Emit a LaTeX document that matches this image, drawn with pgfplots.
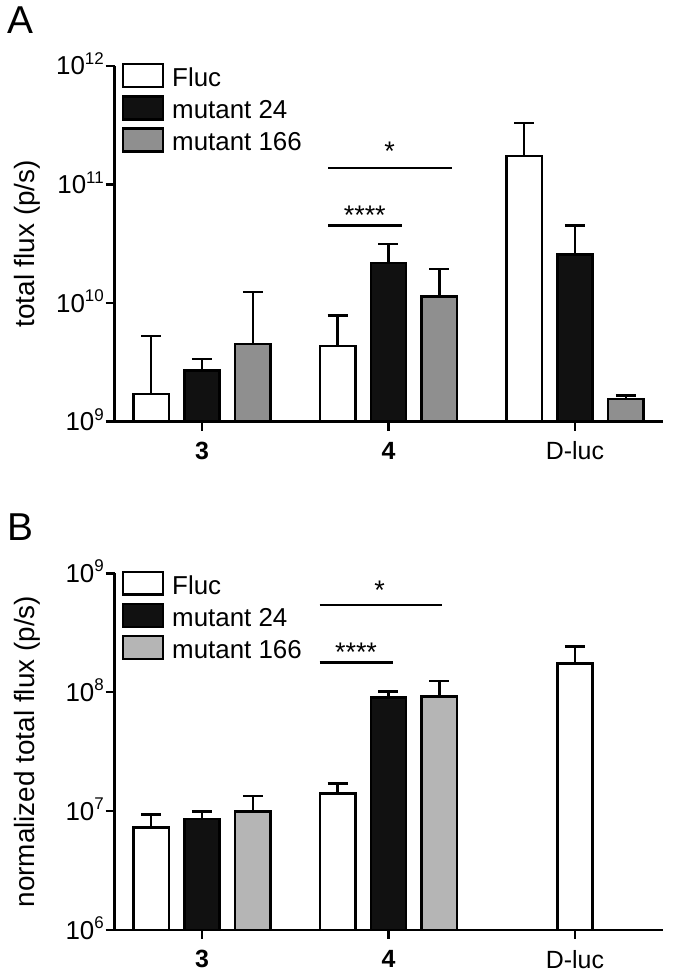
\documentclass[border=0pt]{standalone}
\usepackage{pgfplots}
\pgfplotsset{compat=1.18}
\usepackage{fontspec}
\setmainfont{Liberation Sans}
\definecolor{grayA}{HTML}{8F8F8F}
\definecolor{grayB}{HTML}{B5B5B5}
\definecolor{blk}{HTML}{111111}
\newcommand{\tlab}[1]{10\raisebox{0.4em}{\fontsize{17}{17}\selectfont #1}}
\pgfplotsset{
  errplot/.style={draw=none, no markers, forget plot, line width=2.5bp,
    error bars/y dir=plus, error bars/y explicit,
    error bars/error bar style={draw=black, line width=2.5bp, solid},
    error bars/error mark options={rotate=90, draw=black, line width=2.5bp, mark size=10bp}},
}
\begin{document}
\begin{tikzpicture}
\path[use as bounding box] (0,0) rectangle (673bp,-975bp);
% Panel A
\begin{axis}[at={(114.5bp,-421.7bp)}, anchor=south west,
    scale only axis, width=548.5bp, height=355.9bp,
    xmin=-0.469, xmax=2.472,
    ymode=log, log origin=infty,
    ymin=1e9, ymax=1e12, ytick={1e9,1e10,1e11,1e12},
    yticklabels={\tlab{9},\tlab{10},\tlab{11},\tlab{12}},
    axis x line*=bottom, axis y line*=left,
    axis line style={line width=2.8bp, black},
    xtick={0,1,2}, xticklabels={\textbf{3},\textbf{4},D-luc},
    tick align=outside, major tick length=9bp,
    tick style={line width=2.5bp, black},
    yminorticks=false,
    ticklabel style={font=\fontsize{26}{26}\selectfont},
    xticklabel style={anchor=north, inner sep=0pt, yshift=-11bp, font=\fontsize{25}{25}\selectfont},
    yticklabel style={anchor=base east, inner sep=0pt, xshift=-1.5bp, yshift=-9bp},
    ylabel={total flux (p/s)},
    ylabel style={at={(axis description cs:-0.1595,0.5)}, anchor=center, font=\fontsize{28}{28}\selectfont},
    clip=false,
    legend style={at={(rel axis cs:0,1)}, anchor=north west, draw=none, fill=none,
      inner sep=0pt, xshift=7bp, yshift=3bp, row sep=6.3bp,
      font=\fontsize{26}{26}\selectfont, nodes={inner sep=1bp},
      /tikz/every odd column/.append style={column sep=7bp}},
    legend cell align=left,
  ]
\addplot[ybar, bar width=0.19, bar shift=-0.273, draw=black, line width=2.5bp, fill=white,
  legend image code/.code={\draw[black, fill=white, line width=2.5bp] (0bp,-9bp) rectangle (40bp,13.7bp);}] coordinates {
  (0,1.71e9) (1,4.33e9) (2,1.74e11)
};
\addlegendentry{Fluc}
\addplot[ybar, bar width=0.19, bar shift=0, draw=black, line width=2.5bp, fill=blk,
  legend image code/.code={\draw[black, fill=blk, line width=2.5bp] (0bp,-9bp) rectangle (40bp,13.7bp);}] coordinates {
  (0,2.69e9) (1,2.18e10) (2,2.57e10)
};
\addlegendentry{mutant 24}
\addplot[ybar, bar width=0.19, bar shift=0.273, draw=black, line width=2.5bp, fill=grayA,
  legend image code/.code={\draw[black, fill=grayA, line width=2.5bp] (0bp,-9bp) rectangle (40bp,13.7bp);}] coordinates {
  (0,4.53e9) (1,1.14e10) (2,1.55e9)
};
\addlegendentry{mutant 166}
% upper error bars (x = group + bar shift)
\addplot[errplot] coordinates {
  (-0.273,1.71e9) +- (0,3.59e9)
  (0.727,4.33e9) +- (0,3.52e9)
  (1.727,1.74e11) +- (0,1.56e11)
  (0,2.69e9) +- (0,0.69e9)
  (1,2.18e10) +- (0,0.98e10)
  (2,2.57e10) +- (0,1.95e10)
  (0.273,4.53e9) +- (0,7.87e9)
  (1.273,1.14e10) +- (0,0.79e10)
  (2.273,1.55e9) +- (0,0.11e9)
};
\draw[line width=2.5bp] (axis cs:0.676,1.38e11) -- (axis cs:1.338,1.38e11);
\draw[line width=2.5bp] (axis cs:0.676,4.51e10) -- (axis cs:1.072,4.51e10);
\node[anchor=base, inner sep=0pt, font=\fontsize{27}{27}\selectfont] at (axis cs:1.006,1.58e11) {*};
\node[anchor=base, inner sep=0pt, font=\fontsize{27}{27}\selectfont] at (axis cs:0.873,4.61e10) {****};
\end{axis}
% Panel B
\begin{axis}[at={(114.5bp,-930bp)}, anchor=south west,
    scale only axis, width=548.5bp, height=356.7bp,
    xmin=-0.469, xmax=2.472,
    ymode=log, log origin=infty,
    ymin=1e6, ymax=1e9, ytick={1e6,1e7,1e8,1e9},
    yticklabels={\tlab{6},\tlab{7},\tlab{8},\tlab{9}},
    axis x line*=bottom, axis y line*=left,
    axis line style={line width=2.8bp, black},
    xtick={0,1,2}, xticklabels={\textbf{3},\textbf{4},D-luc},
    tick align=outside, major tick length=9bp,
    tick style={line width=2.5bp, black},
    yminorticks=false,
    ticklabel style={font=\fontsize{26}{26}\selectfont},
    xticklabel style={anchor=north, inner sep=0pt, yshift=-11bp, font=\fontsize{25}{25}\selectfont},
    yticklabel style={anchor=base east, inner sep=0pt, xshift=-1.5bp, yshift=-9bp},
    ylabel={normalized total flux (p/s)},
    ylabel style={at={(axis description cs:-0.1595,0.5)}, anchor=center, font=\fontsize{28}{28}\selectfont},
    clip=false,
    legend style={at={(rel axis cs:0,1)}, anchor=north west, draw=none, fill=none,
      inner sep=0pt, xshift=7bp, yshift=3bp, row sep=6.3bp,
      font=\fontsize{26}{26}\selectfont, nodes={inner sep=1bp},
      /tikz/every odd column/.append style={column sep=7bp}},
    legend cell align=left,
  ]
\addplot[ybar, bar width=0.19, bar shift=-0.273, draw=black, line width=2.5bp, fill=white,
  legend image code/.code={\draw[black, fill=white, line width=2.5bp] (0bp,-9bp) rectangle (40bp,13.7bp);}] coordinates {
  (0,7.31e6) (1,1.41e7)
};
\addlegendentry{Fluc}
\addplot[ybar, bar width=0.19, bar shift=0, draw=black, line width=2.5bp, fill=blk,
  legend image code/.code={\draw[black, fill=blk, line width=2.5bp] (0bp,-9bp) rectangle (40bp,13.7bp);}] coordinates {
  (0,8.59e6) (1,9.0e7)
};
\addlegendentry{mutant 24}
\addplot[ybar, bar width=0.19, bar shift=0.273, draw=black, line width=2.5bp, fill=grayB,
  legend image code/.code={\draw[black, fill=grayB, line width=2.5bp] (0bp,-9bp) rectangle (40bp,13.7bp);}] coordinates {
  (0,9.9e6) (1,9.18e7)
};
\addlegendentry{mutant 166}
\addplot[ybar, bar width=0.19, bar shift=0, draw=black, line width=2.5bp, fill=white, forget plot] coordinates {
  (2,1.75e8)
};
\addplot[errplot] coordinates {
  (-0.273,7.31e6) +- (0,2.09e6)
  (0.727,1.41e7) +- (0,3.0e6)
  (0,8.59e6) +- (0,1.31e6)
  (1,9.0e7) +- (0,1.1e7)
  (0.273,9.9e6) +- (0,3.5e6)
  (1.273,9.18e7) +- (0,3.22e7)
  (2,1.75e8) +- (0,6.7e7)
};
\draw[line width=2.5bp] (axis cs:0.631,5.41e8) -- (axis cs:1.287,5.41e8);
\draw[line width=2.5bp] (axis cs:0.631,1.78e8) -- (axis cs:1.023,1.78e8);
\node[anchor=base, inner sep=0pt, font=\fontsize{27}{27}\selectfont] at (axis cs:0.953,6.06e8) {*};
\node[anchor=base, inner sep=0pt, font=\fontsize{27}{27}\selectfont] at (axis cs:0.826,1.83e8) {****};
\end{axis}
\node[anchor=base west, inner sep=0pt, font=\fontsize{39}{39}\selectfont] at (7bp,-33bp) {A};
\node[anchor=base west, inner sep=0pt, font=\fontsize{39}{39}\selectfont] at (7bp,-540bp) {B};
\end{tikzpicture}
\end{document}
